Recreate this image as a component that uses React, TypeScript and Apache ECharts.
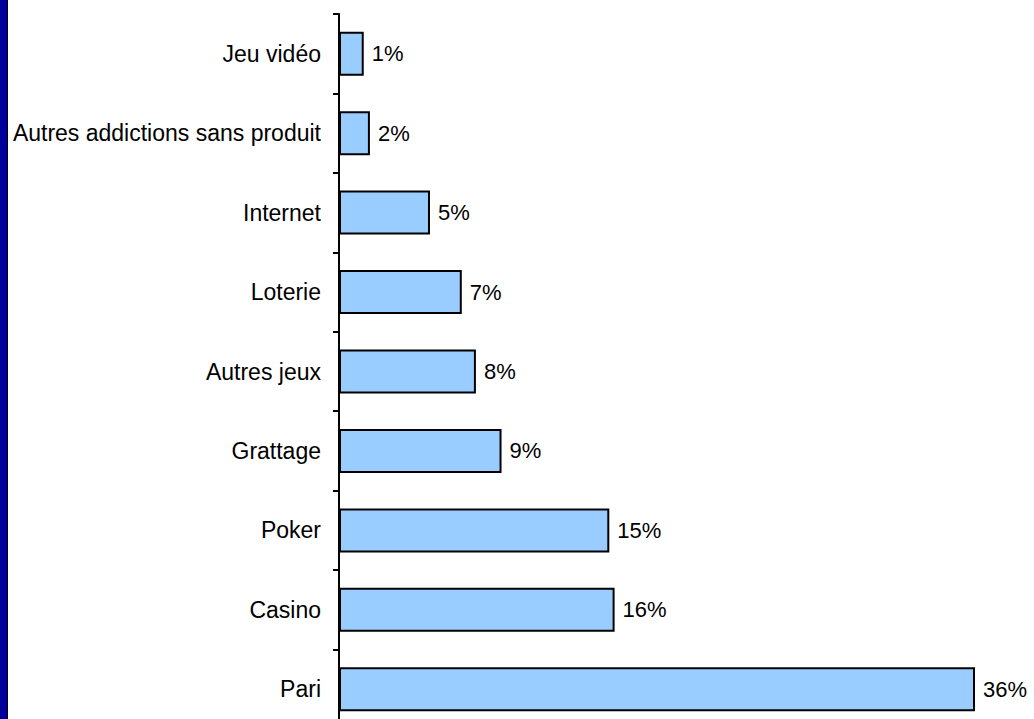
import React, { useEffect, useRef } from "react";
import * as echarts from "echarts";

const categories = [
  "Jeu vidéo",
  "Autres addictions sans produit",
  "Internet",
  "Loterie",
  "Autres jeux",
  "Grattage",
  "Poker",
  "Casino",
  "Pari",
];
const values = [1.4, 1.75, 5.15, 6.95, 7.75, 9.2, 15.3, 15.6, 36.0];

export default function App() {
  const ref = useRef<HTMLDivElement>(null);
  useEffect(() => {
    if (!ref.current) return;
    const chart = echarts.init(ref.current, null, { renderer: "svg" });
    chart.setOption({
      animation: false,
      backgroundColor: "#ffffff",
      textStyle: { fontFamily: "Liberation Sans, Arial, sans-serif" },
      graphic: [
        { type: "rect", shape: { x: 0, y: 0, width: 7, height: 740 }, style: { fill: "#00009C" } },
        { type: "rect", shape: { x: 7, y: 0, width: 1, height: 740 }, style: { fill: "#000000" } },
      ],
      grid: { left: 339, top: 14, width: 636, height: 715, containLabel: false },
      xAxis: {
        type: "value",
        min: 0,
        max: 36,
        show: false,
      },
      yAxis: {
        type: "category",
        data: categories,
        inverse: true,
        axisLine: { show: true, lineStyle: { color: "#000", width: 2 } },
        axisTick: { show: true, length: 6, lineStyle: { color: "#000", width: 2 } },
        axisLabel: {
          color: "#000",
          fontSize: 23,
          margin: 18,
          fontFamily: "Liberation Sans, Arial, sans-serif",
        },
        splitLine: { show: false },
      },
      series: [
        {
          type: "bar",
          data: values,
          barWidth: 44,
          itemStyle: { color: "#99CCFF", borderColor: "#000", borderWidth: 2 },
          label: {
            show: true,
            position: "right",
            distance: 8,
            color: "#000",
            fontSize: 22,
            fontFamily: "Liberation Sans, Arial, sans-serif",
            formatter: (p: any) => Math.round(p.value) + "%",
          },
        },
      ],
    });
    return () => chart.dispose();
  }, []);
  return (
    <div
      style={{
        position: "absolute",
        left: 0,
        top: 0,
        width: 1034,
        height: 719,
        overflow: "hidden",
        background: "#fff",
      }}
    >
      <div ref={ref} style={{ width: 1034, height: 740 }} />
    </div>
  );
}
